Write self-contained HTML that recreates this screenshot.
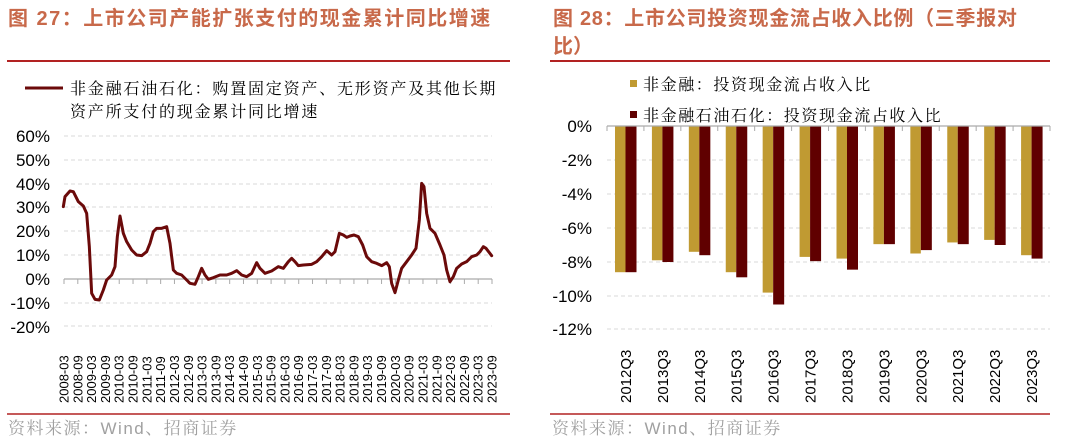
<!DOCTYPE html>
<html><head><meta charset="utf-8"><style>
body{margin:0;background:#fff}
svg{display:block}
text{font-family:"Liberation Sans","Noto Sans CJK SC",sans-serif}
.sf{font-family:"Liberation Sans","Noto Serif CJK SC",serif}
</style></head><body>
<svg width="1080" height="439" viewBox="0 0 1080 439" xmlns="http://www.w3.org/2000/svg">
<!-- Titles -->
<text x="8" y="25" font-size="20" font-weight="bold" fill="#C8694A" letter-spacing="1.5">图 27：上市公司产能扩张支付的现金累计同比增速</text>
<line x1="7" y1="61" x2="510" y2="61" stroke="#B22222" stroke-width="2"/>
<text x="553" y="25" font-size="20" font-weight="bold" fill="#C8694A" letter-spacing="0.7">图 28：上市公司投资现金流占收入比例（三季报对</text>
<text x="553" y="53" font-size="20" font-weight="bold" fill="#C8694A">比）</text>
<line x1="550" y1="61" x2="1050" y2="61" stroke="#B22222" stroke-width="2"/>
<!-- footers -->
<line x1="7" y1="414" x2="510" y2="414" stroke="#B22222" stroke-width="1.5"/>
<line x1="550" y1="414" x2="1050" y2="414" stroke="#B22222" stroke-width="1.5"/>
<text class="sf" x="8" y="434" font-size="17" fill="#A0A0A0" letter-spacing="1.5">资料来源：Wind、招商证券</text>
<text class="sf" x="552" y="434" font-size="17" fill="#A0A0A0" letter-spacing="1.5">资料来源：Wind、招商证券</text>

<!-- Left legend -->
<line x1="25" y1="88" x2="63" y2="88" stroke="#6B0A0A" stroke-width="3"/>
<text class="sf" x="70" y="94" font-size="16" fill="#000" letter-spacing="1.8">非金融石油石化：购置固定资产、无形资产及其他长期</text>
<text class="sf" x="70" y="117" font-size="16" fill="#000" letter-spacing="1.8">资产所支付的现金累计同比增速</text>

<!-- Left axes -->
<g stroke="#d9d9d9" stroke-dasharray="4,3" stroke-width="1">
<line x1="64" y1="136" x2="492" y2="136"/><line x1="64" y1="160" x2="492" y2="160"/>
<line x1="64" y1="184" x2="492" y2="184"/><line x1="64" y1="207" x2="492" y2="207"/>
<line x1="64" y1="231" x2="492" y2="231"/><line x1="64" y1="255" x2="492" y2="255"/>
<line x1="64" y1="303" x2="492" y2="303"/><line x1="64" y1="326" x2="492" y2="326"/>
</g>
<g font-size="17" fill="#000" text-anchor="end">
<text x="50" y="142">60%</text><text x="50" y="166">50%</text><text x="50" y="190">40%</text>
<text x="50" y="213">30%</text><text x="50" y="237">20%</text><text x="50" y="261">10%</text>
<text x="50" y="285">0%</text><text x="50" y="309">-10%</text><text x="50" y="333">-20%</text>
</g>
<line x1="64" y1="279" x2="492" y2="279" stroke="#aaa" stroke-width="1.2"/>
<g stroke="#aaa" stroke-width="1" id="lt"></g>
<g id="lx" font-size="13" fill="#000"></g>
<g transform="translate(0,120) scale(0.33333)">
<polyline fill="none" stroke="#6B0A0A" stroke-width="3" vector-effect="non-scaling-stroke" stroke-linejoin="round" stroke-linecap="round" points="190,260 195,230 210,213 220,215 235,245 250,258 260,280 268,380 275,520 285,538 298,540 310,510 320,480 335,465 345,440 352,350 360,288 370,340 380,365 395,390 410,405 425,407 440,395 450,370 460,335 470,325 485,325 500,320 510,370 520,450 530,460 545,465 560,480 570,490 585,493 595,470 605,445 615,465 625,478 640,473 660,465 680,465 695,460 710,452 725,465 740,470 755,460 770,428 780,445 795,460 815,453 835,440 850,445 865,425 875,415 885,425 895,437 910,435 935,433 950,425 965,410 980,392 995,405 1005,395 1018,340 1030,345 1040,352 1050,348 1062,345 1075,350 1088,375 1100,410 1115,425 1130,430 1145,437 1160,428 1168,440 1175,490 1185,518 1195,480 1205,445 1220,425 1235,405 1248,385 1258,300 1265,190 1272,200 1280,280 1290,325 1305,340 1320,375 1332,405 1340,450 1350,485 1360,470 1370,445 1385,432 1400,425 1415,410 1430,405 1440,395 1450,380 1458,385 1475,407"/>
</g>

<!-- Right legend -->
<rect x="630" y="80" width="7" height="7" fill="#C09A32"/>
<text class="sf" x="643" y="90" font-size="16" fill="#000" letter-spacing="1.6">非金融：投资现金流占收入比</text>
<rect x="630" y="111" width="7" height="7" fill="#600000"/>
<text class="sf" x="643" y="121" font-size="16" fill="#000" letter-spacing="1.6">非金融石油石化：投资现金流占收入比</text>

<!-- Right axes -->
<g stroke="#d9d9d9" stroke-dasharray="4,3" stroke-width="1">
<line x1="607" y1="160" x2="1050" y2="160"/><line x1="607" y1="194" x2="1050" y2="194"/>
<line x1="607" y1="228" x2="1050" y2="228"/><line x1="607" y1="262" x2="1050" y2="262"/>
<line x1="607" y1="296" x2="1050" y2="296"/><line x1="607" y1="329" x2="1050" y2="329"/>
</g>
<g font-size="17" fill="#000" text-anchor="end">
<text x="592" y="132">0%</text><text x="592" y="166">-2%</text><text x="592" y="200">-4%</text>
<text x="592" y="234">-6%</text><text x="592" y="268">-8%</text><text x="592" y="302">-10%</text>
<text x="592" y="335">-12%</text>
</g>
<g id="bars"></g>
<line x1="607" y1="126" x2="1050" y2="126" stroke="#aaa" stroke-width="1.2"/>
<g id="rt" stroke="#aaa" stroke-width="1"></g>
<g id="rx" font-size="15" fill="#000"></g>
</svg>
<script>
var NS="http://www.w3.org/2000/svg";
function el(p,t,a,txt){var e=document.createElementNS(NS,t);for(var k in a)e.setAttribute(k,a[k]);if(txt)e.textContent=txt;document.getElementById(p).appendChild(e);}
for(var i=0;i<32;i++){var x=64+i*(428/31);
el("lt","line",{x1:x,y1:279,x2:x,y2:284});
var y=2008+Math.floor(i/2),m=i%2?"09":"03";
el("lx","text",{transform:"translate("+(x+4.5)+",403) rotate(-90)"},y+"-"+m);}
var g=[[8.6,8.6],[7.9,8.0],[7.4,7.6],[8.6,8.9],[9.8,10.5],[7.7,7.95],[7.8,8.45],[6.95,6.95],[7.5,7.3],[6.85,6.95],[6.7,7.0],[7.6,7.8]];
var w=443/12;
for(var i=0;i<12;i++){var x0=607+i*w;
el("bars","rect",{x:x0+8,y:126,width:10.5,height:g[i][0]*17,fill:"#C09A32"});
el("bars","rect",{x:x0+18.5,y:126,width:11,height:g[i][1]*17,fill:"#600000"});
el("rt","line",{x1:x0,y1:126,x2:x0,y2:131});
el("rx","text",{transform:"translate("+(x0+w/2+5.5)+",403) rotate(-90)"},(2012+i)+"Q3");}
el("rt","line",{x1:1050,y1:126,x2:1050,y2:131});
</script>
</body></html>
